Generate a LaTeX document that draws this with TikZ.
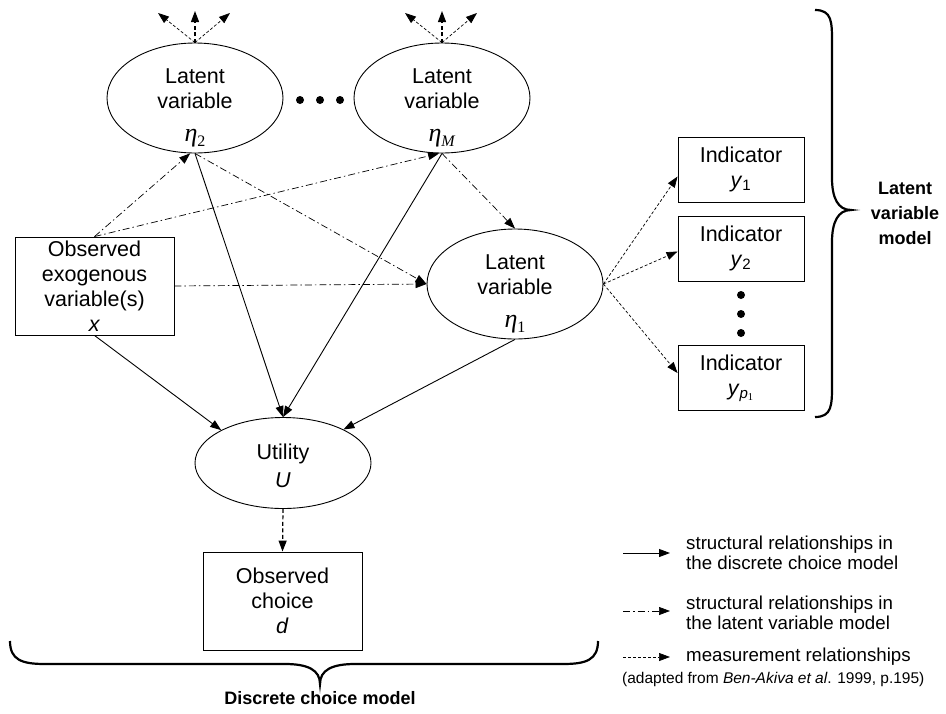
\documentclass[tikz,border=0pt]{standalone}
\usepackage{fontspec}
\setmainfont{Liberation Sans}
\newfontfamily\serif{Liberation Serif}
\usetikzlibrary{arrows.meta,shapes.geometric}
\newcommand\bodyfnt{\fontsize{21.5}{25}\selectfont}
\newcommand\legfnt{\fontsize{18.7}{20}\selectfont}
\newcommand\smallfnt{\fontsize{15.5}{18}\selectfont}
\newcommand\bracefnt{\fontsize{18}{25}\selectfont\bfseries}
\newcommand\etasym[1]{{\serif\fontsize{26}{26}\selectfont\textit{η}\raisebox{-5pt}{\fontsize{16}{16}\selectfont #1}}}
\begin{document}
\begin{tikzpicture}[x=1pt,y=-1pt,
  every node/.style={inner sep=0pt},
  ell/.style={draw, ellipse, line width=0.9pt, minimum width=176pt, minimum height=110pt},
  lbl/.style={align=center, font=\bodyfnt},
  box/.style={draw, rectangle, line width=0.9pt, align=center, font=\bodyfnt},
  tip/.style={-{Triangle[length=11pt,width=8pt]}},
  sol/.style={tip, line width=0.9pt},
  dd/.style={tip, line width=0.7pt, dash pattern=on 7pt off 3pt on 1.5pt off 3pt},
  ms/.style={tip, line width=0.7pt, dash pattern=on 3pt off 2pt},
  md/.style={tip, line width=1.2pt, dash pattern=on 4pt off 2.5pt},
  brc/.style={line width=2.2pt},
  dot/.style={fill=black}
]
\useasboundingbox (0,0) rectangle (946,713);

% latent variables
\node[ell] (eta2) at (195,98) {};
\node[lbl] (eta2t) at (195,107.5) {Latent\\variable\\[8pt]\etasym{2}};
\node[ell] (etaM) at (442,98) {};
\node[lbl] (etaMt) at (442,107.5) {Latent\\variable\\[8pt]\etasym{\textit{M}}};
\node[ell] (eta1) at (515,284) {};
\node[lbl] (eta1t) at (515,293.5) {Latent\\variable\\[8pt]\etasym{1}};
\node[ell, minimum height=91pt] (U) at (283,463) {};
\node[lbl] (Ut) at (283,466) {Utility\\[3pt]\textit{U}};

% boxes
\node[box, minimum width=159pt, minimum height=98pt] (x) at (94.5,286) {Observed\\exogenous\\variable(s)\\\textit{x}};
\node[box, minimum width=159pt, minimum height=98pt] (d) at (282.5,601) {Observed\\choice\\\textit{d}};
\node[box, minimum width=126pt, minimum height=65pt] (y1) at (741,169.5) {Indicator\\\textit{y}\textsubscript{1}};
\node[box, minimum width=126pt, minimum height=65pt] (y2) at (741,248.5) {Indicator\\\textit{y}\textsubscript{2}};
\node[box, minimum width=126pt, minimum height=65pt] (yp) at (741,378) {Indicator\\\textit{y}\textsubscript{\textit{p}\textsubscript{\serif 1}}};

% dots
\fill[dot] (300,100) circle (4pt);
\fill[dot] (320,100) circle (4pt);
\fill[dot] (340,100) circle (4pt);
\fill[dot] (741,295) circle (4pt);
\fill[dot] (741,314) circle (4pt);
\fill[dot] (741,333) circle (4pt);

% top arrows
\coordinate (a21) at (158,13);
\coordinate (a22) at (195,11);
\coordinate (a23) at (230,13);
\coordinate (aM1) at (405,13);
\coordinate (aM2) at (442,11);
\coordinate (aM3) at (477,13);
\draw[ms] (eta2.north) -- (a21);
\draw[md] (eta2.north) -- (a22);
\draw[ms] (eta2.north) -- (a23);
\draw[ms] (etaM.north) -- (aM1);
\draw[md] (etaM.north) -- (aM2);
\draw[ms] (etaM.north) -- (aM3);

% structural (latent variable model)
\draw[dd] (x.north) -- (eta2.-95);
\draw[dd] (x.north) -- (etaM.-93);
\draw[dd] (x.east) -- (eta1.west);
\draw[dd] (eta2.south) -- (eta1.west);
\draw[dd] (etaM.south) -- (eta1.north);

% structural (discrete choice)
\draw[sol] (eta2.south) -- (U.north);
\draw[sol] (etaM.south) -- (U.north);
\draw[sol] (x.south) -- (U.152);
\draw[sol] (eta1.south) -- (U.29);

% measurement
\draw[md] (U.south) -- (d.north);
\draw[ms] (eta1.east) -- ([yshift=-7pt]y1.west);
\draw[ms] (eta1.east) -- ([yshift=-3pt]y2.west);
\draw[ms] (eta1.east) -- ([yshift=5pt]yp.west);

% braces
\draw[brc] (815,10) .. controls (832,10) and (832,22) .. (832,42) -- (832,178)
  .. controls (832,198) and (838,210) .. (851,210)
  .. controls (838,210) and (832,222) .. (832,242) -- (832,385)
  .. controls (832,405) and (832,417) .. (815,417);
\draw[brc] (10,641) .. controls (10,660) and (22,664) .. (45,664) -- (285,664)
  .. controls (308,664) and (320,670) .. (320,684)
  .. controls (320,670) and (332,664) .. (355,664) -- (563,664)
  .. controls (586,664) and (598,660) .. (598,641);
\node[font=\bracefnt, align=center] (lvm) at (905,213) {Latent\\variable\\model};
\node[font=\bracefnt] (dcm) at (320,698) {Discrete choice model};

% legend
\coordinate (l1a) at (623,553);
\coordinate (l1b) at (670,553);
\coordinate (l2a) at (623,611);
\coordinate (l2b) at (670,611);
\coordinate (l3a) at (623,657);
\coordinate (l3b) at (670,657);
\draw[sol] (l1a) -- (l1b);
\draw[dd] (l2a) -- (l2b);
\draw[ms] (l3a) -- (l3b);
\node[font=\legfnt, align=left, anchor=west] (t1) at (686,553) {structural relationships in\\the discrete choice model};
\node[font=\legfnt, align=left, anchor=west] (t2) at (686,613) {structural relationships in\\the latent variable model};
\node[font=\legfnt, anchor=west] (t3) at (686,657) {measurement relationships};
\node[font=\smallfnt, anchor=west] (src) at (622,679) {(adapted from \textit{Ben-Akiva et al}. 1999, p.195)};
\end{tikzpicture}
\end{document}
